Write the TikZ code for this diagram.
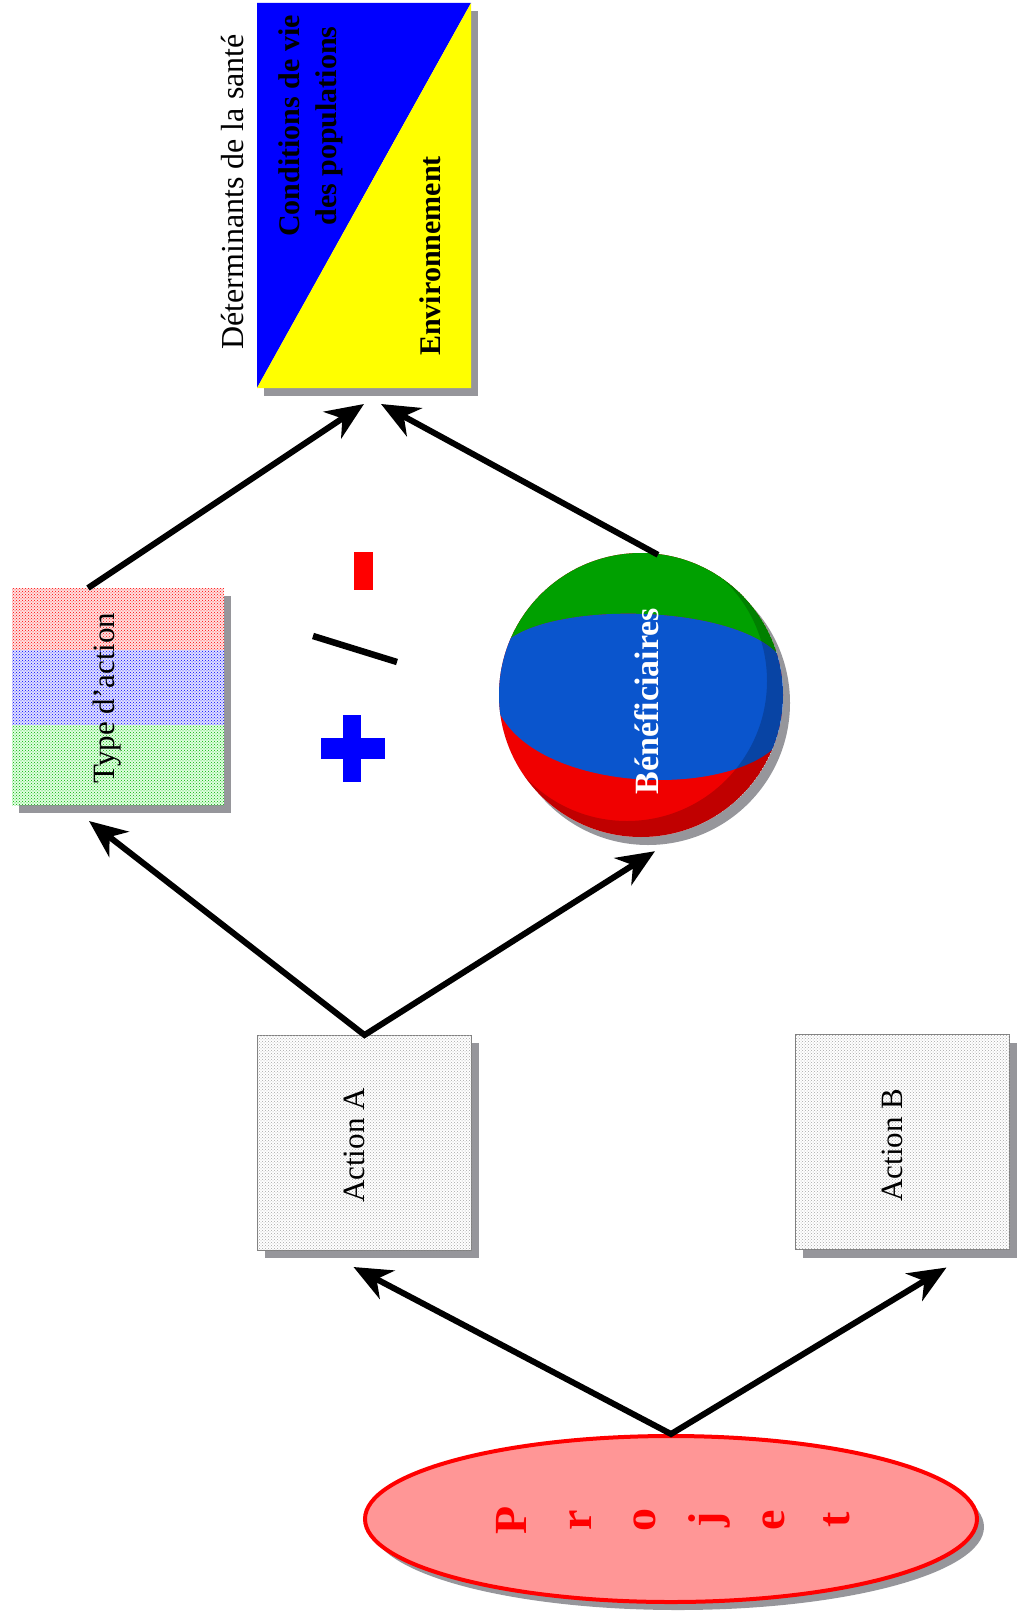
\documentclass[tikz,border=0pt]{standalone}
\usepackage{fontspec}
\setmainfont{Liberation Serif}
\usetikzlibrary{arrows.meta,patterns,calc,shapes.geometric,shadows}
\definecolor{detblue}{RGB}{0,0,255}
\definecolor{detyellow}{RGB}{255,255,0}
\definecolor{shadowgray}{RGB}{150,150,155}
\definecolor{sphblue}{RGB}{10,85,205}
\definecolor{sphgreen}{RGB}{0,160,0}
\definecolor{sphred}{RGB}{240,0,0}
\definecolor{projfill}{RGB}{255,150,150}
\begin{document}
\begin{tikzpicture}[x=1pt,y=-1pt,
  shad/.style={drop shadow={shadow xshift=7pt,shadow yshift=-8pt,fill=shadowgray,opacity=1}},
  plainbox/.style={rectangle,inner sep=0pt,outer sep=0pt},
  actbox/.style={plainbox,minimum width=214pt,minimum height=215pt,fill=white,draw=gray,line width=0.8pt,shad,
     postaction={pattern=crosshatch dots,pattern color=gray!70}},
  arr/.style={line width=6pt,line join=miter,-{Stealth[length=38pt,width=32pt,inset=12pt]}},
  arrboth/.style={line width=6pt,line join=miter,{Stealth[length=38pt,width=32pt,inset=12pt]}-{Stealth[length=38pt,width=32pt,inset=12pt]}},
  vlab/.style={rotate=90,inner sep=0pt,font=\fontsize{31}{37}\selectfont},
  vlabb/.style={rotate=90,inner sep=0pt,align=center,font=\fontsize{30}{37}\selectfont\bfseries}]
\useasboundingbox (0,0) rectangle (1018,1613);

% ---- Déterminants box
\node[plainbox,minimum width=214pt,minimum height=385pt,fill=white,shad] (det) at (364,195.5) {};
\fill[detblue] (det.north west) -- (det.north east) -- (det.south west) -- cycle;
\fill[detyellow] (det.north east) -- (det.south east) -- (det.south west) -- cycle;
\node[vlab,font=\fontsize{32}{37}\selectfont] (dettitle) at (233,192) {Déterminants de la santé};
\node[vlabb] (cond) at (311,126) {Conditions de vie\\des populations};
\node[vlabb] (env) at (430,256) {Environnement};

% ---- Type d'action box
\node[plainbox,minimum width=212pt,minimum height=217pt,fill=white,shad] (typ) at (118,696.5) {};
\fill[red!12] (typ.north west) rectangle ($(typ.north east)+(0,62)$);
\fill[pattern=crosshatch dots,pattern color=red] (typ.north west) rectangle ($(typ.north east)+(0,62)$);
\fill[blue!12] ($(typ.north west)+(0,62)$) rectangle ($(typ.north east)+(0,137)$);
\fill[pattern=crosshatch dots,pattern color=blue] ($(typ.north west)+(0,62)$) rectangle ($(typ.north east)+(0,137)$);
\fill[green!12] ($(typ.north west)+(0,137)$) rectangle (typ.south east);
\fill[pattern=crosshatch dots,pattern color=green!70!black] ($(typ.north west)+(0,137)$) rectangle (typ.south east);
\node[vlab] (typtxt) at ($(typ.center)+(-10.5,1.5)$) {Type d’action};

% ---- + / -
\fill[red] (354,552) rectangle (373,590);
\draw[line width=6.5pt] (313,636) -- (397,662);
\fill[blue] (343,715) rectangle (361,782);
\fill[blue] (321,738) rectangle (385,759);

% ---- sphere
\node[circle,inner sep=0pt,minimum size=284pt,fill=white,shad] (sph) at (641,695) {};
\begin{scope}
  \clip (sph.center) circle[radius=142pt];
  \fill[sphred] (sph.center) circle[radius=142pt];
  \fill[sphgreen] (480,530) -- (800,530) -- (800,660) -- (783,660) .. controls (740,600) and (530,600) .. (499,650) -- (480,650) -- cycle;
  \fill[sphblue] (499,650) .. controls (530,600) and (740,600) .. (783,660) -- (783,738) .. controls (740,800) and (540,795) .. (499,712) -- cycle;
  \fill[black,opacity=0.2,even odd rule] (sph.center) circle[radius=142pt] ($(sph.center)+(-14,-14)$) circle[radius=140pt];
\end{scope}
\node[vlabb,white,font=\fontsize{34}{37}\selectfont\bfseries] (benef) at ($(sph.center)+(5.5,6)$) {Bénéficiaires};

% ---- Action boxes
\node[actbox] (actA) at (364.5,1142.5) {};
\node[vlab] (actAtxt) at ($(actA.center)+(-10,3)$) {Action A};
\node[actbox] (actB) at (902.5,1142) {};
\node[vlab] (actBtxt) at ($(actB.center)+(-10,3)$) {Action B};

% ---- Projet
\node[ellipse,minimum width=612pt,minimum height=166pt,draw=red,line width=4pt,fill=projfill,shad] (prj) at (671,1519) {};
\node[rotate=90,inner sep=0pt,align=center,text=red,font=\fontsize{46}{64.5}\selectfont\bfseries] (prjtxt) at (673,1520) {P\\r\\o\\j\\e\\t};

% ---- connectors
\draw[arr] ([xshift=-30pt]typ.north) -- ([yshift=-16pt]det.south);
\draw[arr] ([xshift=17pt,yshift=-2pt]sph.north) -- ([xshift=17pt,yshift=-16pt]det.south);
\draw[arrboth] ([xshift=-29pt,yshift=-16pt]typ.south) -- (actA.north) -- ([xshift=14pt,yshift=-14pt]sph.south);
\draw[arrboth] ([xshift=-11pt,yshift=-17pt]actA.south) -- (prj.north) -- ([xshift=44pt,yshift=-18pt]actB.south);
\end{tikzpicture}
\end{document}
